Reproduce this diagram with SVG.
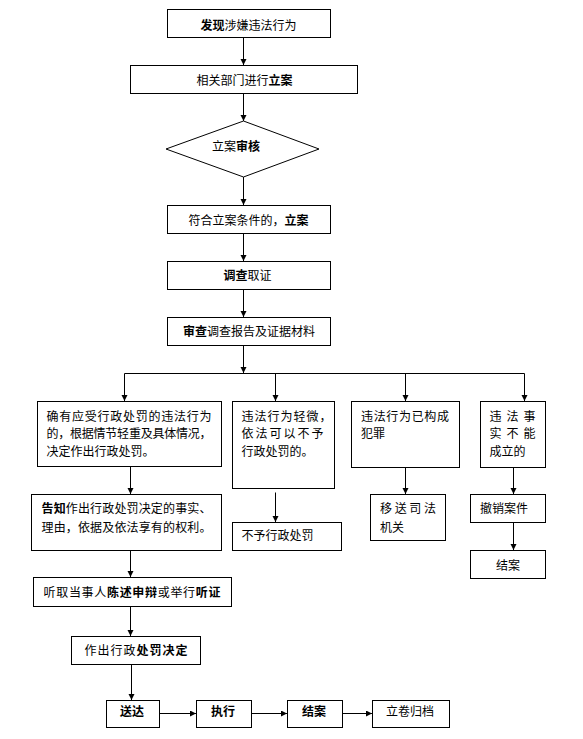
<svg xmlns="http://www.w3.org/2000/svg" width="583" height="739" viewBox="0 0 583 739">
<style>
.n rect, .n polygon { fill: #fff; stroke: #000; stroke-width: 1; }
text { font-family: "Noto Sans CJK SC", "Liberation Sans", sans-serif; font-size: 12px; fill: #000; }
.c { text-anchor: middle; }
.b { font-weight: bold; }
#connectors line { stroke: #000; stroke-width: 1; fill: none; }
</style>
<defs>
<marker id="ah" markerUnits="userSpaceOnUse" markerWidth="7" markerHeight="7" refX="6" refY="3" orient="auto">
<path d="M0,0 L6,3 L0,6 Z" fill="#000"/>
</marker>
</defs>
<rect width="583" height="739" fill="#fff"/>

<g id="connectors">
<line x1="243.5" y1="37.5" x2="243.5" y2="65" marker-end="url(#ah)"/>
<line x1="243.5" y1="93.5" x2="243.5" y2="121" marker-end="url(#ah)"/>
<line x1="243.5" y1="177" x2="243.5" y2="205" marker-end="url(#ah)"/>
<line x1="243.5" y1="233.5" x2="243.5" y2="261" marker-end="url(#ah)"/>
<line x1="243.5" y1="289.5" x2="243.5" y2="317" marker-end="url(#ah)"/>
<line x1="243.5" y1="345.5" x2="243.5" y2="373" marker-end="url(#ah)"/>
<line x1="124.5" y1="373.5" x2="524.5" y2="373.5"/>
<line x1="124.5" y1="373.5" x2="124.5" y2="401" marker-end="url(#ah)"/>
<line x1="275.5" y1="373.5" x2="275.5" y2="401" marker-end="url(#ah)"/>
<line x1="405.5" y1="373.5" x2="405.5" y2="401" marker-end="url(#ah)"/>
<line x1="524.5" y1="373.5" x2="524.5" y2="401" marker-end="url(#ah)"/>
<line x1="130.5" y1="466.5" x2="130.5" y2="494" marker-end="url(#ah)"/>
<line x1="275.5" y1="492.5" x2="275.5" y2="522" marker-end="url(#ah)"/>
<line x1="405.5" y1="467.5" x2="405.5" y2="494" marker-end="url(#ah)"/>
<line x1="513.5" y1="467.5" x2="513.5" y2="494" marker-end="url(#ah)"/>
<line x1="513.5" y1="522.5" x2="513.5" y2="550" marker-end="url(#ah)"/>
<line x1="130.5" y1="550.5" x2="130.5" y2="577" marker-end="url(#ah)"/>
<line x1="130.5" y1="606.5" x2="130.5" y2="636" marker-end="url(#ah)"/>
<line x1="131.5" y1="664.5" x2="131.5" y2="700" marker-end="url(#ah)"/>
<line x1="160" y1="713.5" x2="196" y2="713.5" marker-end="url(#ah)"/>
<line x1="252" y1="713.5" x2="287" y2="713.5" marker-end="url(#ah)"/>
<line x1="343" y1="713.5" x2="372" y2="713.5" marker-end="url(#ah)"/>
</g>

<g id="n1" class="n"><rect x="167.5" y="9.5" width="163" height="28"/>
<text x="248.5" y="29.8" class="c"><tspan class="b">发现</tspan>涉嫌违法行为</text></g>
<g id="n2" class="n"><rect x="130.5" y="65.5" width="227" height="28"/>
<text x="244.5" y="84.8" class="c">相关部门进行<tspan class="b">立案</tspan></text></g>
<g id="n3" class="n"><polygon points="166,149 243.5,121 319,149 243.5,177"/>
<text x="236" y="151.3" class="c">立案<tspan class="b">审核</tspan></text></g>
<g id="n4" class="n"><rect x="167.5" y="205.5" width="163" height="28"/>
<text x="248.5" y="224.6" class="c">符合立案条件的，<tspan class="b">立案</tspan></text></g>
<g id="n5" class="n"><rect x="167.5" y="261.5" width="163" height="28"/>
<text x="247.5" y="280.3" class="c"><tspan class="b">调查</tspan>取证</text></g>
<g id="n6" class="n"><rect x="167.5" y="317.5" width="163" height="28"/>
<text x="249" y="336.3" class="c"><tspan class="b">审查</tspan>调查报告及证据材料</text></g>

<g id="n7" class="n"><rect x="37.5" y="401.5" width="184" height="65"/>
<text x="46.5" y="420.5" textLength="165" lengthAdjust="spacing">确有应受行政处罚的违法行为</text>
<text x="46.5" y="438" textLength="165" lengthAdjust="spacing">的，根据情节轻重及具体情况，</text>
<text x="46.5" y="456">决定作出行政处罚。</text></g>
<g id="n8" class="n"><rect x="232.5" y="401.5" width="102" height="87"/>
<text x="241.5" y="420.5" textLength="90" lengthAdjust="spacing">违法行为轻微，</text>
<text x="241.5" y="438" textLength="82" lengthAdjust="spacing">依法可以不予</text>
<text x="241.5" y="456">行政处罚的。</text></g>
<g id="n9" class="n"><rect x="351.5" y="401.5" width="108" height="66"/>
<text x="361" y="420.5" textLength="88" lengthAdjust="spacing">违法行为已构成</text>
<text x="361" y="438">犯罪</text></g>
<g id="n10" class="n"><rect x="480.5" y="401.5" width="65" height="66"/>
<text x="489.5" y="420.5" textLength="46" lengthAdjust="spacing">违法事</text>
<text x="489.5" y="438" textLength="46" lengthAdjust="spacing">实不能</text>
<text x="489.5" y="456">成立的</text></g>

<g id="n11" class="n"><rect x="31.5" y="494.5" width="190" height="56"/>
<text x="41.5" y="513" textLength="170" lengthAdjust="spacing"><tspan class="b">告知</tspan>作出行政处罚决定的事实、</text>
<text x="41.5" y="532" textLength="170" lengthAdjust="spacing">理由，依据及依法享有的权利。</text></g>
<g id="n12" class="n"><rect x="232.5" y="522.5" width="109" height="28"/>
<text x="241.5" y="540.3">不予行政处罚</text></g>
<g id="n13" class="n"><rect x="370.5" y="494.5" width="75" height="46"/>
<text x="380" y="513" textLength="56" lengthAdjust="spacing">移送司法</text>
<text x="380" y="532">机关</text></g>
<g id="n14" class="n"><rect x="470.5" y="494.5" width="75" height="28"/>
<text x="480" y="513">撤销案件</text></g>
<g id="n15" class="n"><rect x="470.5" y="550.5" width="75" height="28"/>
<text x="508" y="569.5" class="c">结案</text></g>

<g id="n16" class="n"><rect x="33.5" y="577.5" width="198" height="29"/>
<text x="43.5" y="596.5" textLength="177" lengthAdjust="spacing">听取当事人<tspan class="b">陈述申辩</tspan>或举行<tspan class="b">听证</tspan></text></g>
<g id="n17" class="n"><rect x="71.5" y="636.5" width="129" height="28"/>
<text x="136" y="655.3" class="c" textLength="103" lengthAdjust="spacing">作出行政<tspan class="b">处罚决定</tspan></text></g>

<g id="n18" class="n"><rect x="106.5" y="700.5" width="53" height="27"/>
<text x="132" y="716.3" class="c b">送达</text></g>
<g id="n19" class="n"><rect x="196.5" y="700.5" width="55" height="27"/>
<text x="223" y="716.3" class="c b">执行</text></g>
<g id="n20" class="n"><rect x="287.5" y="700.5" width="55" height="27"/>
<text x="314" y="716.3" class="c b">结案</text></g>
<g id="n21" class="n"><rect x="372.5" y="700.5" width="77" height="27"/>
<text x="410" y="716.3" class="c">立卷归档</text></g>
</svg>
